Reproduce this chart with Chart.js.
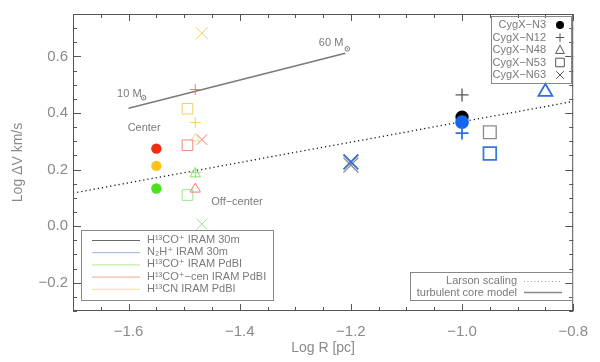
<!DOCTYPE html>
<html>
<head>
<meta charset="utf-8">
<script src="https://cdn.jsdelivr.net/npm/chart.js@4/dist/chart.umd.min.js"></script>
<style>
html,body{margin:0;padding:0;background:#fff;}
canvas{display:block;}
</style>
</head>
<body>
<canvas id="c" width="600" height="362"></canvas>
<script>
// ---------- data (log R [pc], log dV [km/s]) ----------
const sources = ['CygX\u2212N3','CygX\u2212N12','CygX\u2212N48','CygX\u2212N53','CygX\u2212N63'];

const h13co30mR  = [-1.00, -1.00, null, -0.95, -1.20];
const h13co30mDV = [0.385, 0.464, null, 0.332, 0.216];

const n2h30mR  = [-1.00, -1.00, -0.85, -0.95, -1.20];
const n2h30mDV = [0.368, 0.329, 0.475, 0.257, 0.227];

const pdbiR = [null, -1.48, -1.48, -1.494, -1.468];
const h13coPdbiDV    = [null, 0.190, 0.185, 0.110, 0.007];
const h13coCenPdbiDV = [null, 0.483, 0.131, 0.286, 0.306];
const h13cnPdbiDV    = [null, 0.366, 0.310, 0.415, 0.682];

const centerR  = [-1.55, -1.55, -1.55];
const centerDV = [0.274, 0.213, 0.133];

const larsonR  = [-1.70, -0.80];
const larsonDV = [0.117, 0.441];

const turbR  = [-1.600, -1.210];
const turbDV = [0.417, 0.611];
const turbMassLabels = ['10 M', '60 M'];

const xTickValues = [-1.6, -1.4, -1.2, -1.0, -0.8];
const xTickLabels = ['\u22121.6', '\u22121.4', '\u22121.2', '\u22121.0', '\u22120.8'];
const yTickValues = [-0.2, 0.0, 0.2, 0.4, 0.6];
const yTickLabels = ['\u22120.2', '0.0', '0.2', '0.4', '0.6'];

const legendSeries = ['H\u00b9\u00b3CO\u207a IRAM 30m', 'N\u2082H\u207a IRAM 30m', 'H\u00b9\u00b3CO\u207a IRAM PdBI',
                      'H\u00b9\u00b3CO\u207a\u2212cen IRAM PdBI', 'H\u00b9\u00b3CN IRAM PdBI'];
const modelLabels = ['Larson scaling', 'turbulent core model'];
const noteTexts = ['Center', 'Off\u2212center'];
const noteR  = [-1.572, -1.405];
const noteDV = [0.347, 0.086];

// ---------- styles ----------
const markerStyle = ['circle', 'cross', 'triangle', 'rect', 'crossRot'];
const FONT = '"Liberation Sans", "DejaVu Sans", sans-serif';
const TEXT = '#7a7a7a';

function pts(R, DV) {
  const out = [];
  R.forEach((r, i) => { if (r !== null && DV[i] !== null) out.push({x: r, y: DV[i], s: i}); });
  return out;
}
function markerDataset(label, R, DV, colors, sizes, lw, order) {
  return {
    label, order, data: pts(R, DV),
    pointStyle: c => markerStyle[c.raw.s],
    pointRadius: c => sizes[c.raw.s],
    pointHoverRadius: c => sizes[c.raw.s],
    borderColor: c => colors[c.raw.s],
    backgroundColor: c => markerStyle[c.raw.s] === 'circle' ? colors[c.raw.s] : 'rgba(0,0,0,0)',
    pointBorderWidth: lw, borderWidth: lw, showLine: false
  };
}

const bigSizes = [6, 6.5, 8, 9, 10.5];
const smallSizes = [5, 5.5, 6, 7.5, 7.5];

const datasets = [
  {label: 'Larson', order: 10, data: larsonR.map((r, i) => ({x: r, y: larsonDV[i]})), showLine: true,
   borderColor: '#111', borderWidth: 1.3, borderDash: [1.2, 3], pointRadius: 0},
  {label: 'turb', order: 9, data: turbR.map((r, i) => ({x: r, y: turbDV[i]})), showLine: true,
   borderColor: '#7a7a7a', borderWidth: 1.6, pointRadius: 0},
  markerDataset('H13CO+ 30m', h13co30mR, h13co30mDV, ['#000', '#555', '#777', '#8a8a8a', '#8a8a8a'], bigSizes, 1.3, 8),
  markerDataset('N2H+ 30m', n2h30mR, n2h30mDV, ['#1565f0', '#2f6fe6', '#2f6fd8', '#3a78dc', '#3a6fd0'], bigSizes, 1.8, 7),
  markerDataset('H13CO+ PdBI', pdbiR, h13coPdbiDV, ['#8fe07a','#8fe07a','#8fe07a','#9ae488','#9ae488'], smallSizes, 1, 4),
  markerDataset('H13CO+-cen PdBI', pdbiR, h13coCenPdbiDV, ['#f07a6a','#f07a6a','#f07a6a','#f08a7c','#f07a6a'], smallSizes, 1, 3),
  markerDataset('H13CN PdBI', pdbiR, h13cnPdbiDV, ['#f2d060','#f2d060','#f5df90','#f2d060','#f2d060'], [5,5.5,5,7.5,8.5], 1, 5),
  {label: 'center', order: 1, data: centerR.map((r, i) => ({x: r, y: centerDV[i]})), showLine: false,
   pointStyle: 'circle', pointRadius: 5.2, borderWidth: 0,
   backgroundColor: ['#f52b10', '#ffc21a', '#4ce21e'], borderColor: ['#f52b10', '#ffc21a', '#4ce21e']}
];

function drawSym(ctx, style, x, y, r) {
  ctx.beginPath();
  if (style === 'circle') { ctx.arc(x, y, r, 0, Math.PI * 2); ctx.fill(); return; }
  if (style === 'cross') { ctx.moveTo(x - r, y); ctx.lineTo(x + r, y); ctx.moveTo(x, y - r); ctx.lineTo(x, y + r); }
  if (style === 'crossRot') { ctx.moveTo(x - r, y - r); ctx.lineTo(x + r, y + r); ctx.moveTo(x - r, y + r); ctx.lineTo(x + r, y - r); }
  if (style === 'rect') { ctx.rect(x - r, y - r, 2 * r, 2 * r); }
  if (style === 'triangle') { ctx.moveTo(x, y - r - 0.5); ctx.lineTo(x + r, y + r * 0.8); ctx.lineTo(x - r, y + r * 0.8); ctx.closePath(); }
  ctx.stroke();
}
function sun(ctx, x, y) {
  ctx.beginPath(); ctx.arc(x, y, 2.3, 0, Math.PI * 2); ctx.stroke();
  ctx.beginPath(); ctx.arc(x, y, 0.7, 0, Math.PI * 2); ctx.fill();
}

const decor = {
  id: 'decor',
  afterDraw(chart) {
    const {ctx, chartArea: {left, right, top, bottom}, scales: {x, y}} = chart;
    ctx.save();
    // frame
    ctx.strokeStyle = '#555'; ctx.lineWidth = 1;
    ctx.strokeRect(left + 0.5, top + 0.5, right - left - 1, bottom - top - 1);
    // ticks
    const isMajor = v => Math.abs(v / 0.2 - Math.round(v / 0.2)) < 1e-6;
    ctx.beginPath();
    for (let i = 0; i <= 18; i++) {
      const v = x.min + i * 0.05;
      const px = Math.round(x.getPixelForValue(v)) + 0.5;
      const L = isMajor(v) ? 7 : 4;
      ctx.moveTo(px, bottom); ctx.lineTo(px, bottom - L);
      ctx.moveTo(px, top); ctx.lineTo(px, top + L);
    }
    for (let i = 0; i <= 21; i++) {
      const v = y.min + i * 0.05;
      const py = Math.round(y.getPixelForValue(v)) + 0.5;
      const L = isMajor(v) ? 8 : 4;
      ctx.moveTo(left, py); ctx.lineTo(left + L, py);
      ctx.moveTo(right, py); ctx.lineTo(right - L, py);
    }
    ctx.stroke();

    ctx.font = '11px ' + FONT;
    ctx.fillStyle = TEXT; ctx.strokeStyle = '#777'; ctx.lineWidth = 1;
    ctx.textBaseline = 'middle';
    // notes
    ctx.textAlign = 'center';
    noteTexts.forEach((t, i) => ctx.fillText(t, x.getPixelForValue(noteR[i]), y.getPixelForValue(noteDV[i])));
    // mass labels on turbulent model line
    const x0 = x.getPixelForValue(turbR[0]), y0 = y.getPixelForValue(turbDV[0]);
    const x1 = x.getPixelForValue(turbR[1]), y1 = y.getPixelForValue(turbDV[1]);
    ctx.textAlign = 'right';
    ctx.fillText(turbMassLabels[0], x0 + 13, y0 - 14);
    ctx.fillText(turbMassLabels[1], x1 - 2, y1 - 10);
    sun(ctx, x0 + 15, y0 - 10.5);
    sun(ctx, x1 + 2, y1 - 4.5);

    // top-right legend
    ctx.strokeStyle = '#888';
    ctx.strokeRect(491.5, 16.5, 80, 67);
    ctx.textAlign = 'right';
    sources.forEach((s, i) => {
      const yy = 25 + i * 12.5;
      ctx.fillStyle = TEXT;
      ctx.fillText(s, 546, yy);
      ctx.fillStyle = '#000'; ctx.strokeStyle = '#555';
      drawSym(ctx, markerStyle[i], 560, yy, markerStyle[i] === 'circle' ? 4 : (markerStyle[i] === 'crossRot' ? 3.8 : 4.3));
    });
    // bottom-left legend
    ctx.strokeStyle = '#888';
    ctx.strokeRect(81.5, 230.5, 192, 70);
    const lc = ['#6a6a6a', '#9db4dc', '#b5ea9c', '#f2a598', '#f3dc98'];
    ctx.textAlign = 'left';
    legendSeries.forEach((t, i) => {
      const yy = 240 + i * 12.2;
      ctx.strokeStyle = lc[i]; ctx.lineWidth = 1;
      ctx.beginPath(); ctx.moveTo(92, yy + 0.5); ctx.lineTo(140, yy + 0.5); ctx.stroke();
      ctx.fillStyle = TEXT; ctx.fillText(t, 147, yy);
    });
    // bottom-right legend
    ctx.strokeStyle = '#888';
    ctx.strokeRect(410.5, 272.5, 162, 28);
    ctx.textAlign = 'right';
    ctx.fillStyle = TEXT;
    ctx.fillText(modelLabels[0], 517, 281);
    ctx.fillText(modelLabels[1], 517, 292.5);
    ctx.strokeStyle = '#999';
    ctx.setLineDash([1, 2.5]);
    ctx.beginPath(); ctx.moveTo(524, 281.5); ctx.lineTo(562, 281.5); ctx.stroke();
    ctx.setLineDash([]);
    ctx.strokeStyle = '#888'; ctx.lineWidth = 1.3;
    ctx.beginPath(); ctx.moveTo(524, 292.5); ctx.lineTo(562, 292.5); ctx.stroke();
    ctx.restore();
  }
};

new Chart(document.getElementById('c'), {
  type: 'scatter',
  data: {datasets},
  options: {
    responsive: false, animation: false, devicePixelRatio: 1,
    layout: {padding: {top: 4, right: 21, left: 0, bottom: 0}},
    plugins: {legend: {display: false}, tooltip: {enabled: false}},
    scales: {
      x: {
        type: 'linear', min: -1.7, max: -0.8,
        afterBuildTicks: s => { s.ticks = xTickValues.map(v => ({value: v})); },
        afterFit: s => { s.height = 51; },
        grid: {display: false, drawTicks: false},
        border: {display: false},
        ticks: {autoSkip: false, maxRotation: 0, padding: 12, color: '#8a8a8a',
                font: {family: FONT, size: 15},
                callback: (v, i) => xTickLabels[i]},
        title: {display: true, text: 'Log R [pc]', color: '#8a8a8a', padding: {top: 0, bottom: 5},
                font: {family: FONT, size: 14}}
      },
      y: {
        type: 'linear', min: -0.3, max: 0.75,
        afterBuildTicks: s => { s.ticks = yTickValues.map(v => ({value: v})); },
        afterFit: s => { s.width = 73; },
        grid: {display: false, drawTicks: false},
        border: {display: false},
        ticks: {autoSkip: false, padding: 5, color: '#8a8a8a',
                font: {family: FONT, size: 15},
                callback: (v, i) => yTickLabels[i]},
        title: {display: true, text: 'Log \u0394V km/s', color: '#8a8a8a', padding: {top: 10, bottom: 0},
                font: {family: FONT, size: 14}}
      }
    }
  },
  plugins: [decor]
});
</script>
</body>
</html>
